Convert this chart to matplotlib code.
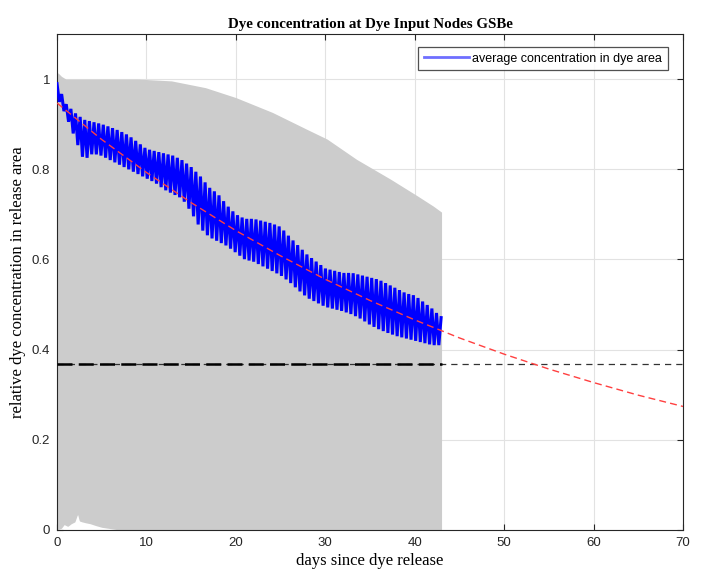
import numpy as np
import matplotlib
matplotlib.use("Agg")
import matplotlib.pyplot as plt

# ---------------- data ----------------
# grey band (range over all nodes): upper and lower envelope
env_days_top = [0.0, 0.2, 0.5, 1.0, 9.1, 12.8, 16.6, 20.0, 24.1, 27.9, 30.2, 33.5, 37.3, 40.3, 42.1, 43.0]
env_top = [1.015, 1.012, 1.006, 1.0, 1.0, 0.996, 0.981, 0.959, 0.926, 0.889, 0.867, 0.822, 0.778, 0.741, 0.718, 0.705]
env_days_bot = [0.0, 0.5, 0.8, 1.2, 1.6, 2.0, 2.3, 2.5, 2.8, 3.2, 3.7, 4.3, 5.0, 6.0, 7.0, 43.0]
env_bot = [0.0, 0.004, 0.012, 0.008, 0.014, 0.018, 0.035, 0.02, 0.018, 0.016, 0.014, 0.01, 0.006, 0.003, 0.0, 0.0]

# average concentration: daily envelope of the tidal oscillation (peaks / troughs)
avg_days = list(range(0, 44))
avg_peak = [0.99, 0.945, 0.925, 0.91, 0.905, 0.90, 0.893, 0.885, 0.875, 0.86,
            0.845, 0.84, 0.835, 0.83, 0.82, 0.805, 0.785, 0.76, 0.745, 0.72,
            0.70, 0.69, 0.69, 0.685, 0.68, 0.672, 0.65, 0.63, 0.61, 0.595,
            0.58, 0.575, 0.57, 0.57, 0.565, 0.56, 0.555, 0.545, 0.535, 0.525,
            0.52, 0.505, 0.49, 0.47]
avg_trough = [0.96, 0.92, 0.87, 0.82, 0.835, 0.83, 0.82, 0.81, 0.80, 0.79,
              0.78, 0.77, 0.755, 0.745, 0.735, 0.705, 0.67, 0.65, 0.64, 0.63,
              0.615, 0.60, 0.595, 0.585, 0.575, 0.565, 0.55, 0.532, 0.515, 0.505,
              0.495, 0.49, 0.485, 0.478, 0.468, 0.455, 0.445, 0.437, 0.43, 0.425,
              0.42, 0.415, 0.41, 0.41]
tidal_period = 0.5175  # days (semi-diurnal)

# exponential fit (red dashed)
fit_days = [0, 5, 10, 15, 20, 25, 30, 35, 40, 45, 50, 55, 60, 65, 70]
fit_vals = [0.947, 0.866, 0.793, 0.726, 0.664, 0.608, 0.556, 0.509, 0.466,
            0.426, 0.390, 0.357, 0.327, 0.299, 0.274]

efold = 0.368  # 1/e level
data_end = 43.0

x_ticks = [0, 10, 20, 30, 40, 50, 60, 70]
y_ticks = [0, 0.2, 0.4, 0.6, 0.8, 1.0]
y_ticklabels = ["0", "0.2", "0.4", "0.6", "0.8", "1"]

title = "Dye concentration at Dye Input Nodes GSBe"
xlabel = "days since dye release"
ylabel = "relative dye concentration in release area"
legend_label = "average concentration in dye area"

# ---------------- figure ----------------
fig = plt.figure(figsize=(7.11, 5.77), dpi=100)
ax = fig.add_axes([57 / 711, 1 - 530 / 577, 626 / 711, 496 / 577])

# grey band
xf = np.linspace(0, data_end, 800)
top_i = np.interp(xf, env_days_top, env_top)
bot_i = np.interp(xf, env_days_bot, env_bot)
ax.fill_between(xf, bot_i, top_i, color="#cccccc", linewidth=0, zorder=2)

# blue oscillating average (zig-zag between read envelopes)
n_half = int(data_end / (tidal_period / 2))
tz = np.arange(n_half + 1) * (tidal_period / 2)
tz = tz[tz <= data_end]
pk = np.interp(tz, avg_days, avg_peak)
tr = np.interp(tz, avg_days, avg_trough)
yz = np.where(np.arange(len(tz)) % 2 == 0, pk, tr)
line, = ax.plot(tz, yz, color="#0000ff", lw=2.2, zorder=4, label=legend_label,
                solid_joinstyle="miter")

# red exponential fit
ax.plot(fit_days, fit_vals, color="#ff4040", lw=1.0, ls=(0, (5, 3)), zorder=5)

# 1/e level
ax.plot([0, 70], [efold, efold], color="#333333", lw=0.9, ls=(0, (5, 4)), zorder=3)
ax.plot([0, data_end], [efold, efold], color="black", lw=1.8, ls=(0, (6, 2.5)), zorder=3)

ax.set_xlim(0, 70)
ax.set_ylim(0, 1.1)
ax.set_xticks(x_ticks)
ax.set_xticklabels([str(v) for v in x_ticks])
ax.set_yticks(y_ticks)
ax.set_yticklabels(y_ticklabels)

ax.set_axisbelow(True)
ax.grid(True, color="#e2e2e2", lw=0.8, zorder=0)
ax.tick_params(direction="in", length=4, width=0.8, top=True, right=True,
               colors="#262626", labelsize=9.5, pad=5)
for lab in ax.get_xticklabels() + ax.get_yticklabels():
    lab.set_fontfamily("Liberation Sans")
for s in ax.spines.values():
    s.set_color("#262626")
    s.set_linewidth(0.8)

ax.set_title(title, fontfamily="Liberation Serif", fontweight="bold", fontsize=10.8, pad=4)
ax.set_xlabel(xlabel, fontfamily="Liberation Serif", fontsize=12, labelpad=3)
ax.set_ylabel(ylabel, fontfamily="Liberation Serif", fontsize=12, labelpad=4)

leg = ax.legend(handles=[line], loc="upper right", bbox_to_anchor=(0.976, 0.974),
                borderaxespad=0, frameon=True, fancybox=False,
                prop={"family": "Liberation Sans", "size": 9},
                handlelength=3.6, borderpad=0.45, handletextpad=0.3)
leg.get_frame().set_edgecolor("#262626")
leg.get_frame().set_linewidth(0.9)
for lh in leg.get_lines():
    lh.set_color("#6f6fff")
    lh.set_linewidth(2.0)

fig.savefig("out.png", dpi=100)
